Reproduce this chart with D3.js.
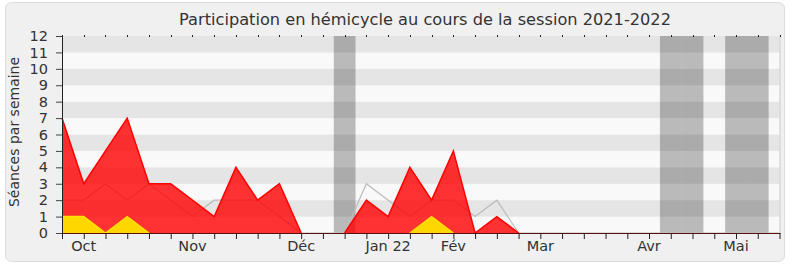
<!DOCTYPE html>
<html>
<head>
<meta charset="utf-8">
<script src="https://cdn.jsdelivr.net/npm/d3@7"></script>
<style>
  body { margin: 0; background: #fff; }
  svg text { font-family: "DejaVu Sans", Verdana, sans-serif; fill: #333; }
</style>
</head>
<body>
<svg id="chart" width="790" height="267"></svg>
<script>
    "use strict";

    // semaines de la session, index 0..33
    let weeks = d3.range(34);
    let monthLabels = ["Oct", "Nov", "Déc", "Jan 22", "Fév", "Mar", "Avr", "Mai"];
    let monthWeeks = [1, 6, 11, 15, 18, 22, 27, 31];
    let vacationWeeks = [13, 28, 29, 31, 32];

    // séances par semaine
    let presences = [7, 3, 5, 7, 3, 3, 2, 1, 4, 2, 3, 0, 0, 0, 2, 1, 4, 2, 5, 0, 1, 0, 0, 0, 0, 0, 0, 0, 0, 0, 0, 0, 0, 0];
    let interventions = [1, 1, 0, 1, 0, 0, 0, 0, 0, 0, 0, 0, 0, 0, 0, 0, 0, 1, 0, 0, 0, 0, 0, 0, 0, 0, 0, 0, 0, 0, 0, 0, 0, 0];
    let mediane = [2, 2, 3, 2, 3, 2, 1, 2, 2, 2, 1, 0, 0, 0, 3, 2, 1, 2, 2, 1, 2, 0, 0, 0, 0, 0, 0, 0, 0, 0, 0, 0, 0, 0];
    let yTicks = d3.range(0, 13);

!(function(){
    let svg = d3.select("#chart"),
        pLeft = 62, pRight = 779.5, pTop = 36, pBottom = 233;

    let x = d3.scaleLinear().domain([0, 33]).range([pLeft, pRight]),
        y = d3.scaleLinear().domain([0, 12]).range([pBottom, pTop]);

    // cadre
    svg.append("rect")
        .attr("x", 5.5).attr("y", 2.5)
        .attr("width", 779).attr("height", 259)
        .attr("rx", 6)
        .attr("fill", "#f0f0f0")
        .attr("stroke", "#dcdcdc");

    // bandes horizontales
    svg.append("g").selectAll("rect")
        .data(yTicks.slice(0, 12))
        .enter().append("rect")
        .attr("x", pLeft)
        .attr("width", pRight - pLeft)
        .attr("y", d => y(d + 1))
        .attr("height", d => y(d) - y(d + 1))
        .attr("fill", d => d % 2 ? "#e5e5e5" : "#f9f9f9");

    // vacances
    svg.append("g").selectAll("rect")
        .data(vacationWeeks)
        .enter().append("rect")
        .attr("x", d => x(d - 0.5))
        .attr("width", d => x(d + 0.5) - x(d - 0.5))
        .attr("y", pTop)
        .attr("height", pBottom - pTop)
        .attr("fill", "#000")
        .attr("fill-opacity", 0.25);

    // on ne trace le bord que là où la série quitte zéro
    let nonZero = (vals) => (d, i) => d > 0 || vals[i - 1] > 0 || vals[i + 1] > 0,
        line = (vals, defd) => d3.line().defined(defd || (() => true)).x((d, i) => x(i)).y(d => y(d))(vals),
        area = (vals) => d3.area().x((d, i) => x(i)).y0(y(0)).y1(d => y(d))(vals);

    // médiane
    svg.append("path")
        .attr("d", line(mediane))
        .attr("fill", "none")
        .attr("stroke", "#bbb")
        .attr("stroke-width", 1.2);

    // présences
    svg.append("path")
        .attr("d", area(presences))
        .attr("fill", "#f00")
        .attr("fill-opacity", 0.8);
    svg.append("path")
        .attr("d", line(presences, nonZero(presences)))
        .attr("fill", "none")
        .attr("stroke", "#f00")
        .attr("stroke-width", 1.5);

    // interventions
    svg.append("path")
        .attr("d", area(interventions))
        .attr("fill", "#ffd700");
    svg.append("path")
        .attr("d", line(interventions, nonZero(interventions)))
        .attr("fill", "none")
        .attr("stroke", "#ffe200")
        .attr("stroke-width", 1.5);

    // bord droit
    svg.append("line")
        .attr("x1", pRight + 0.5).attr("x2", pRight + 0.5)
        .attr("y1", pTop).attr("y2", pBottom)
        .attr("stroke", "#ccc");

    // axe x
    let xAxis = svg.append("g")
        .attr("transform", `translate(0,${pBottom})`)
        .call(d3.axisBottom(x).tickValues(weeks).tickSize(6).tickFormat(""));
    xAxis.select(".domain").attr("stroke", "#5a1010").attr("d", `M${pLeft},0.5H${pRight + 1}`);
    xAxis.selectAll(".tick line").attr("stroke", "#222");

    svg.append("g").selectAll("text")
        .data(monthWeeks)
        .enter().append("text")
        .attr("x", d => x(d))
        .attr("y", 251)
        .attr("text-anchor", "middle")
        .attr("font-size", 14.5)
        .text((d, i) => monthLabels[i]);

    // petites graduations en haut
    svg.append("g").selectAll("line")
        .data(weeks)
        .enter().append("line")
        .attr("x1", d => Math.round(x(d)) + 0.5)
        .attr("x2", d => Math.round(x(d)) + 0.5)
        .attr("y1", pTop - 1).attr("y2", pTop + 1)
        .attr("stroke", "#222");

    // axe y
    let yAxis = svg.append("g")
        .attr("transform", `translate(${pLeft},0)`)
        .call(d3.axisLeft(y).tickValues(yTicks).tickSize(6).tickPadding(8));
    yAxis.select(".domain").attr("stroke", "#222").attr("d", `M0.5,${pTop}V${pBottom}`);
    yAxis.selectAll(".tick line").attr("stroke", "#444");
    yAxis.selectAll("text")
        .attr("font-size", 14.5)
        .attr("font-family", "DejaVu Sans, Verdana, sans-serif")
        .attr("fill", "#333");

    svg.append("text")
        .attr("transform", "translate(19,132) rotate(-90)")
        .attr("text-anchor", "middle")
        .attr("font-size", 14)
        .text("Séances par semaine");

    svg.append("text")
        .attr("x", 425)
        .attr("y", 25)
        .attr("text-anchor", "middle")
        .attr("font-size", 16.2)
        .text("Participation en hémicycle au cours de la session 2021-2022");
}());
</script>
</body>
</html>
